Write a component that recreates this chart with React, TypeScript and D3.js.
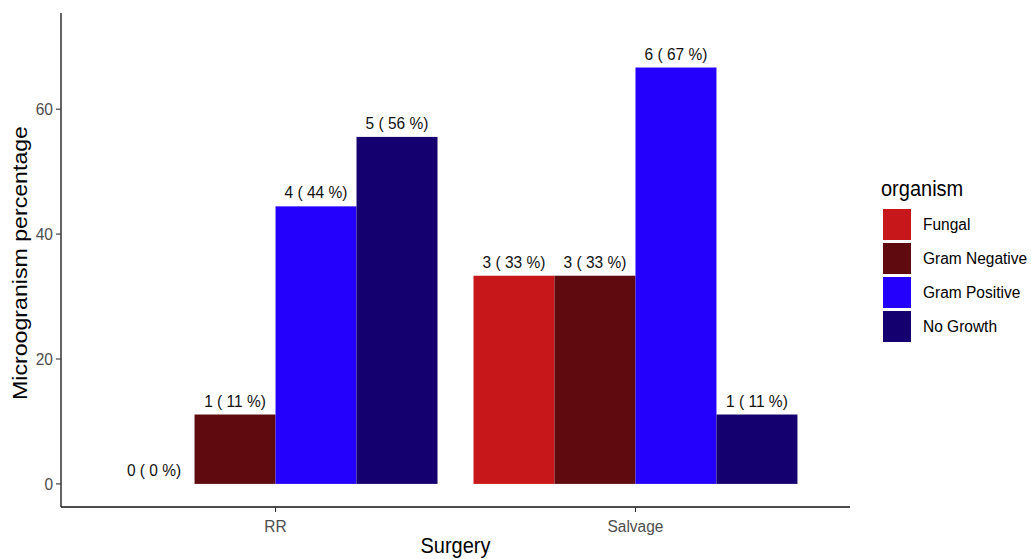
import React from "react";
import * as d3 from "d3";

const surgeries = ["RR", "Salvage"];
const organisms = ["Fungal", "Gram Negative", "Gram Positive", "No Growth"];
const countsRR = [0, 1, 4, 5];
const countsSalvage = [3, 3, 6, 1];
const pctRR = [0, 11.11, 44.44, 55.56];
const pctSalvage = [33.33, 33.33, 66.67, 11.11];
const colors = ["#C8171B", "#5E0A0E", "#2400FC", "#150070"];
const yTicks = [0, 20, 40, 60];

const W = 1031;
const H = 559;
const left = 61;
const right = 850;
const top = 13;
const bottom = 507;
const SY = 1.1; // vertical stretch of glyphs seen in the reference

function T(props: any) {
  const { x, y, children, ...rest } = props;
  return (
    <text transform={`translate(${x},${y}) scale(1,${SY})`} {...rest}>
      {children}
    </text>
  );
}

export default function App() {
  const countsBySurgery = [countsRR, countsSalvage];
  const pctBySurgery = [pctRR, pctSalvage];
  const data = surgeries.flatMap((s, i) =>
    organisms.map((o, j) => ({
      surgery: s,
      organism: o,
      count: countsBySurgery[i][j],
      pct: pctBySurgery[i][j],
      color: colors[j],
    }))
  );

  const x = d3
    .scaleBand<string>()
    .domain(surgeries)
    .range([left, right])
    .paddingInner(0.1)
    .paddingOuter(0.146);
  const xi = d3
    .scaleBand<string>()
    .domain(organisms)
    .range([0, x.bandwidth()])
    .padding(0);
  const y = d3.scaleLinear().domain([-3.7, 75.4]).range([bottom, top]);

  const font = "Arial, 'Liberation Sans', sans-serif";

  return (
    <svg
      width={W}
      height={H}
      style={{ position: "absolute", left: 0, top: 0, background: "#fff" }}
      fontFamily={font}
    >
      <rect x={0} y={0} width={W} height={H} fill="#fff" />
      {data.map((d, i) => {
        const bx = (x(d.surgery) ?? 0) + (xi(d.organism) ?? 0);
        const by = y(Math.max(d.pct, 0));
        return (
          <g key={i}>
            <rect
              x={bx}
              y={by}
              width={xi.bandwidth()}
              height={y(0) - by}
              fill={d.color}
            />
            <T
              x={bx + xi.bandwidth() / 2}
              y={by - 8}
              textAnchor="middle"
              fontSize={15.5}
              fill="#111"
            >
              {`${d.count} ( ${Math.round(d.pct)} %)`}
            </T>
          </g>
        );
      })}
      <line x1={left} x2={left} y1={top} y2={bottom} stroke="#111" strokeWidth={1.3} />
      <line x1={left} x2={right} y1={bottom} y2={bottom} stroke="#111" strokeWidth={1.3} />
      {yTicks.map((t) => (
        <g key={t}>
          <line x1={left - 5} x2={left} y1={y(t)} y2={y(t)} stroke="#333" strokeWidth={1.1} />
          <T x={left - 8} y={y(t) + 6} textAnchor="end" fontSize={15.5} fill="#4D4D4D">
            {t}
          </T>
        </g>
      ))}
      {surgeries.map((s) => {
        const cx = (x(s) ?? 0) + x.bandwidth() / 2;
        return (
          <g key={s}>
            <line x1={cx} x2={cx} y1={bottom} y2={bottom + 5} stroke="#333" strokeWidth={1.1} />
            <T x={cx} y={bottom + 25} textAnchor="middle" fontSize={15.5} fill="#4D4D4D">
              {s}
            </T>
          </g>
        );
      })}
      <T x={(left + right) / 2} y={553} textAnchor="middle" fontSize={20} fill="#000">
        Surgery
      </T>
      <text
        transform={`translate(27, 263) rotate(-90)`}
        textAnchor="middle"
        fontSize={20}
        fill="#000"
        textLength={274}
        lengthAdjust="spacingAndGlyphs"
      >
        Microogranism percentage
      </text>
      <T x={881} y={196} fontSize={20} fill="#000">
        organism
      </T>
      {organisms.map((o, j) => {
        const ky = 209 + j * 34;
        return (
          <g key={o}>
            <rect x={883} y={ky} width={28} height={31} fill={colors[j]} />
            <T x={923} y={ky + 21} fontSize={15.5} fill="#000">
              {o}
            </T>
          </g>
        );
      })}
    </svg>
  );
}
